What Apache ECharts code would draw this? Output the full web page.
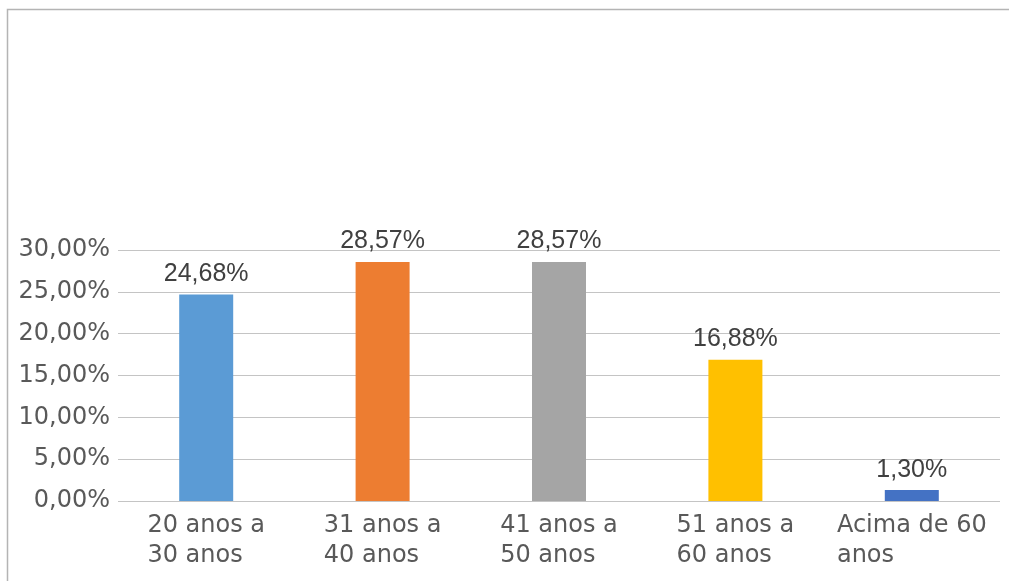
<!DOCTYPE html>
<html>
<head>
<meta charset="utf-8">
<style>
  html, body { margin: 0; padding: 0; background: #ffffff; }
  #chart { width: 1009px; height: 581px; }
</style>
<script src="https://cdn.jsdelivr.net/npm/echarts@6/dist/echarts.min.js"></script>
</head>
<body>
<div id="chart"></div>
<script>
// Faixa etária dos participantes (percentual)
const categories = ['20 anos a\n30 anos', '31 anos a\n40 anos', '41 anos a\n50 anos', '51 anos a\n60 anos', 'Acima de 60\nanos'];
const values = [24.68, 28.57, 28.57, 16.88, 1.30];
const barColors = ['#5B9BD5', '#ED7D31', '#A5A5A5', '#FFC000', '#4472C4'];
const yTicks = { min: 0, max: 30, interval: 5 };

const fmtPct = v => v.toFixed(2).replace('.', ',') + '%';

const chart = echarts.init(document.getElementById('chart'));
chart.setOption({
  animation: false,
  backgroundColor: '#ffffff',
  graphic: [{
    type: 'rect',
    shape: { x: 7.5, y: 9.5, width: 1200, height: 800 },
    style: { fill: 'none', stroke: '#b4b4b4', lineWidth: 1.5 },
    silent: true
  }],
  grid: { left: 118, right: 9, top: 250, bottom: 80 },
  xAxis: {
    type: 'category',
    data: categories,
    axisLine: { show: false },
    axisTick: { show: false },
    axisLabel: {
      margin: 10,
      interval: 0,
      formatter: v => v.split('\n').map(s => '{t|' + s + '}').join('\n'),
      rich: {
        t: {
          align: 'left',
          fontFamily: 'DejaVu Sans',
          fontSize: 24,
          lineHeight: 30,
          color: '#595959'
        }
      }
    }
  },
  yAxis: {
    type: 'value',
    min: yTicks.min,
    max: yTicks.max,
    interval: yTicks.interval,
    axisLine: { show: false },
    axisTick: { show: false },
    splitLine: { lineStyle: { color: '#c4c4c4', width: 1 } },
    axisLabel: {
      margin: 8,
      fontFamily: 'DejaVu Sans',
      fontSize: 24,
      color: '#595959',
      formatter: v => fmtPct(v)
    }
  },
  series: [{
    type: 'bar',
    data: values.map((v, i) => ({ value: v, itemStyle: { color: barColors[i] } })),
    barWidth: 54,
    label: {
      show: true,
      position: 'top',
      distance: 8,
      fontFamily: 'Liberation Sans',
      fontSize: 25,
      color: '#404040',
      formatter: p => fmtPct(p.value)
    }
  }]
});
</script>
</body>
</html>
